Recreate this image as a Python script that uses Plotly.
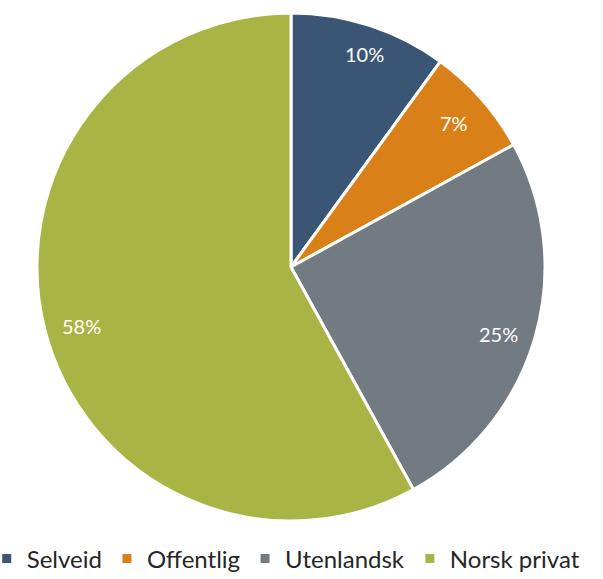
import numpy as np
import plotly.graph_objects as go

labels = ["Selveid", "Offentlig", "Utenlandsk", "Norsk privat"]
shares = [10, 7, 25, 58]
colors = ["#3A5674", "#D98118", "#727A82", "#A8B444"]

W, H = 603, 579
cx_px, cy_px, r_px = 291, 267, 254

fig = go.Figure(
    go.Pie(
        labels=labels,
        values=shares,
        sort=False,
        direction="clockwise",
        rotation=0,
        marker={"colors": colors, "line": {"color": "white", "width": 3}},
        textinfo="none",
        hoverinfo="label+percent",
        domain={"x": [(cx_px - r_px) / W, (cx_px + r_px) / W],
                "y": [1 - (cy_px + r_px) / H, 1 - (cy_px - r_px) / H]},
    )
)

# percent labels placed near the rim, like the original
fracs = np.asarray(shares, dtype=float) / np.sum(shares)
mids = (np.cumsum(fracs) - fracs / 2) * 2 * np.pi
for share, ang in zip(shares, mids):
    fig.add_annotation(
        x=(cx_px + 0.94 * r_px * np.sin(ang)) / W,
        y=1 - (cy_px - 0.94 * r_px * np.cos(ang)) / H,
        xref="paper", yref="paper",
        text=f"{share}%",
        showarrow=False,
        font={"color": "white", "size": 20},
    )

fig.update_layout(
    width=W,
    height=H,
    margin={"l": 0, "r": 0, "t": 0, "b": 0, "autoexpand": False},
    paper_bgcolor="white",
    font={"family": "Lato, Open Sans, sans-serif"},
    showlegend=True,
    legend={
        "orientation": "h",
        "x": -0.022,
        "xanchor": "left",
        "y": -0.004,
        "yanchor": "bottom",
        "font": {"size": 24, "color": "#262626"},
        "itemwidth": 30,
        "tracegroupgap": 0,
    },
)

# the page's default body margin would push everything 8px right/down
fig.write_html(
    "out.html",
    config={"displayModeBar": False},
    post_script="document.body.style.margin='0';",
)
